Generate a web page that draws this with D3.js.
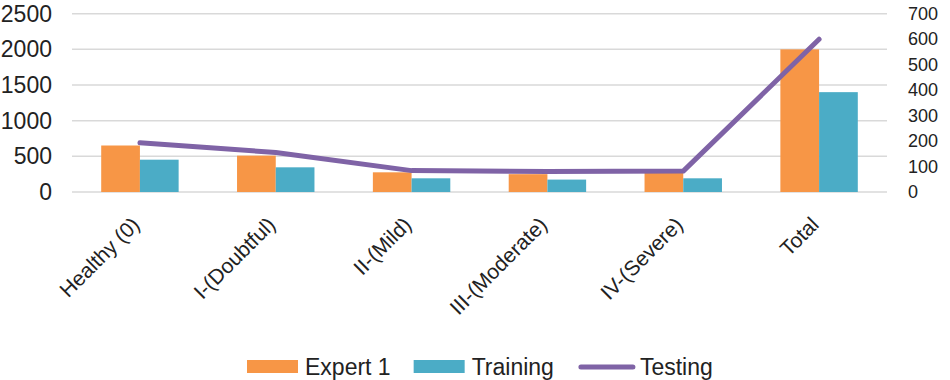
<!DOCTYPE html>
<html>
<head>
<meta charset="utf-8">
<script src="https://cdn.jsdelivr.net/npm/d3@7"></script>
<style>
body { margin: 0; background: #fff; }
text { font-family: "Liberation Sans", Arial, sans-serif; fill: #222; }
</style>
</head>
<body>
<svg id="svg1" width="950" height="380"></svg>
<script>
// data
var categories = ['Healthy (0)', 'I-(Doubtful)', 'II-(Mild)', 'III-(Moderate)', 'IV-(Severe)', 'Total'];
var expert1 = [652, 510, 276, 250, 268, 2000];
var training = [453, 346, 192, 174, 192, 1400];
var testing = [193, 155, 84, 80, 82, 600];
var left_ticks = [0, 500, 1000, 1500, 2000, 2500];
var right_ticks = [0, 100, 200, 300, 400, 500, 600, 700];
var bar_keys = ['Expert 1', 'Training'];
var line_key = 'Testing';

var colors = {'Expert 1': '#f79646', 'Training': '#4bacc6', 'Testing': '#7f63a6'};

var svg1 = d3.select('#svg1');
var plot_left = 72, plot_right = 887, plot_top = 13.7, plot_bottom = 192;

var rows = categories.map((c, i) => ({cat: c, 'Expert 1': expert1[i], 'Training': training[i], 'Testing': testing[i]}));

var x0 = d3.scaleBand().domain(categories).range([plot_left, plot_right]).paddingInner(0.43).paddingOuter(0.215);
var x1 = d3.scaleBand().domain(bar_keys).range([0, x0.bandwidth()]);
var y = d3.scaleLinear().domain([0, 2500]).range([plot_bottom, plot_top]);
var y2 = d3.scaleLinear().domain([0, 700]).range([plot_bottom, plot_top]);

// gridlines
svg1.append('g').selectAll('line').data(left_ticks).enter().append('line')
	.attr('x1', plot_left).attr('x2', plot_right)
	.attr('y1', d => y(d)).attr('y2', d => y(d))
	.attr('stroke', '#d9d9d9').attr('stroke-width', 1.5)

// bars
svg1.append('g').selectAll('g').data(rows).enter().append('g')
	.attr('transform', d => 'translate(' + x0(d.cat) + ',0)')
	.selectAll('rect').data(d => bar_keys.map(k => ({key: k, value: d[k]}))).enter().append('rect')
	.attr('x', d => x1(d.key)).attr('width', x1.bandwidth())
	.attr('y', d => y(d.value)).attr('height', d => y(0) - y(d.value))
	.attr('fill', d => colors[d.key])

// testing line on right axis
var line = d3.line().x(d => x0(d.cat) + x0.bandwidth() / 2).y(d => y2(d[line_key]));
svg1.append('path').datum(rows).attr('d', line)
	.attr('fill', 'none').attr('stroke', colors[line_key]).attr('stroke-width', 5)
	.attr('stroke-linecap', 'round').attr('stroke-linejoin', 'round')

// axes
var gl = svg1.append('g').attr('transform', 'translate(' + plot_left + ',0)')
	.call(d3.axisLeft(y).tickValues(left_ticks).tickFormat(d3.format('d')).tickSize(0).tickPadding(20));
gl.select('.domain').remove();
gl.selectAll('text').style('font-size', '23px').style('font-family', '"Liberation Sans", Arial, sans-serif').attr('fill', '#222');

var gr = svg1.append('g').attr('transform', 'translate(' + plot_right + ',0)')
	.call(d3.axisRight(y2).tickValues(right_ticks).tickFormat(d3.format('d')).tickSize(0).tickPadding(21));
gr.select('.domain').remove();
gr.selectAll('text').style('font-size', '18px').style('font-family', '"Liberation Sans", Arial, sans-serif').attr('fill', '#222');

var gb = svg1.append('g').attr('transform', 'translate(0,' + plot_bottom + ')')
	.call(d3.axisBottom(x0).tickSize(0));
gb.select('.domain').remove();
gb.selectAll('text')
	.attr('x', 0).attr('y', 0).attr('dy', 0)
	.attr('transform', 'translate(1,34) rotate(-45)')
	.attr('text-anchor', 'end')
	.style('font-size', '21px').style('font-family', '"Liberation Sans", Arial, sans-serif').attr('fill', '#222');

// legend
var legend_keys = bar_keys.concat([line_key]);
var lx = 247, ly = 367;
legend_keys.forEach(k => {
	var g = svg1.append('g').attr('transform', 'translate(' + lx + ',' + ly + ')');
	var tx = 58;
	if (k == line_key) {
		g.append('line').attr('x1', 4).attr('x2', 56).attr('y1', 0).attr('y2', 0)
			.attr('stroke', colors[k]).attr('stroke-width', 5).attr('stroke-linecap', 'round');
		tx = 63;
	} else {
		g.append('rect').attr('x', 0).attr('y', -7).attr('width', 51).attr('height', 13).attr('fill', colors[k]);
	}
	var t = g.append('text').attr('x', tx).attr('y', 8).style('font-size', '23px').text(k);
	lx += tx + t.node().getComputedTextLength() + 23;
});
</script>
</body>
</html>
